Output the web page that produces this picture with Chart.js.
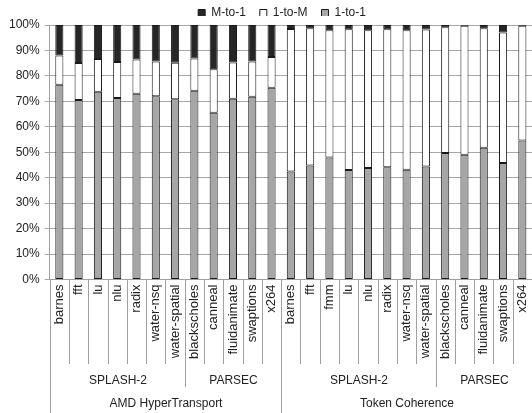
<!DOCTYPE html>
<html><head><meta charset="utf-8">
<script src="https://cdn.jsdelivr.net/npm/chart.js@4.4.0/dist/chart.umd.min.js"></script>
<style>html,body{margin:0;padding:0;background:#fff}canvas{display:block}</style>
</head><body>
<canvas id="c" width="532" height="413"></canvas>
<script>
const categories = [
  'barnes','fft','lu','nlu','radix','water-nsq','water-spatial',
  'blackscholes','canneal','fluidanimate','swaptions','x264',
  'barnes','fft','fmm','lu','nlu','radix','water-nsq','water-spatial',
  'blackscholes','canneal','fluidanimate','swaptions','x264'
];
const oneToOne = [76.5,70.5,73.8,71.3,73.0,72.0,70.8,74.2,65.5,71.0,71.8,75.3,
                  42.4,44.8,47.9,43.0,43.8,44.1,43.1,44.4,49.7,49.0,51.8,45.8,54.6];
const oneToM   = [11.5,14.6,12.8,14.2,13.4,13.7,14.4,12.6,17.1,14.3,13.9,12.1,
                  56.0,53.9,50.0,55.3,54.1,54.2,54.8,53.8,49.4,50.7,46.9,51.3,45.1];
const mToOne   = [12.0,14.9,13.4,14.5,13.6,14.3,14.8,13.2,17.4,14.7,14.3,12.6,
                  1.6,1.3,2.1,1.7,2.1,1.7,2.1,1.8,0.9,0.3,1.3,2.9,0.3];
const suites = [
  {label:'SPLASH-2', from:0, to:6},
  {label:'PARSEC', from:7, to:11},
  {label:'SPLASH-2', from:12, to:19},
  {label:'PARSEC', from:20, to:24}
];
const systems = [
  {label:'AMD HyperTransport', from:0, to:11},
  {label:'Token Coherence', from:12, to:24}
];

const FONT = "'Liberation Sans', Arial, sans-serif";
const LINE = '#a0a0a0';

const hierPlugin = {
  id: 'hier',
  afterLayout(chart) {
    const lg = chart.legend;
    if (lg) {
      const shift = 282 - (lg.left + lg.right) / 2;
      lg.left += shift; lg.right += shift;
      lg.top = -7; lg.bottom = lg.top + lg.height;
    }
  },
  afterDraw(chart) {
    const ctx = chart.ctx, x = chart.scales.x, area = chart.chartArea;
    const step = x.getPixelForValue(1) - x.getPixelForValue(0);
    const edge = i => Math.round(x.getPixelForValue(i) - step / 2) + 0.5;
    const H = chart.height;
    const sBound = new Set(suites.map(s => s.from));
    const sysBound = new Set(systems.map(s => s.from));
    ctx.save();
    ctx.strokeStyle = LINE; ctx.lineWidth = 1;
    for (let i = 0; i < categories.length; i++) {
      let y2 = 364;
      if (sysBound.has(i)) y2 = H;
      else if (sBound.has(i)) y2 = 387;
      ctx.beginPath(); ctx.moveTo(edge(i), area.bottom); ctx.lineTo(edge(i), y2); ctx.stroke();
    }
    ctx.fillStyle = '#222';
    ctx.font = '12px ' + FONT;
    ctx.textAlign = 'center'; ctx.textBaseline = 'middle';
    const mid = g => (edge(g.from) + edge(g.to + 1)) / 2;
    suites.forEach(g => ctx.fillText(g.label, mid(g), 380.5));
    systems.forEach(g => ctx.fillText(g.label, mid(g), 403.5));
    ctx.restore();
  }
};

new Chart(document.getElementById('c'), {
  type: 'bar',
  data: {
    labels: categories,
    datasets: [
      {label:'1-to-1', data: oneToOne, backgroundColor:'#a6a6a8'},
      {label:'1-to-M', data: oneToM, backgroundColor:'#ffffff'},
      {label:'M-to-1', data: mToOne, backgroundColor:'#262626'}
    ].map(d => Object.assign(d, {borderColor:'#1a1a1a', borderWidth:1, borderSkipped:false,
                                  barPercentage:0.42, categoryPercentage:1}))
  },
  options: {
    responsive: false,
    animation: false,
    devicePixelRatio: 1,
    layout: {padding: {left: 4, right: 0, top: 2, bottom: 0}},
    plugins: {
      legend: {
        position: 'top', reverse: true, maxHeight: 23,
        labels: {boxWidth: 7, boxHeight: 7, padding: 14, color: '#222',
                 font: {family: FONT, size: 12}}
      },
      tooltip: {enabled: false}
    },
    scales: {
      x: {
        stacked: true,
        grid: {color: 'rgba(0,0,0,0)', drawTicks: false},
        border: {display: true, color: LINE},
        ticks: {autoSkip: false, minRotation: 90, maxRotation: 90, padding: 5,
                color: '#222', font: {family: FONT, size: 13}},
        afterFit(s) { s.height = 133.5; s.paddingLeft = 0; s.paddingRight = 0; }
      },
      y: {
        stacked: true, min: 0, max: 100,
        grid: {color: '#a8a8a8', tickLength: 5},
        border: {color: LINE},
        ticks: {stepSize: 10, padding: 5, color: '#222',
                font: {family: FONT, size: 12}, callback: v => v + '%'}
      }
    }
  },
  plugins: [hierPlugin]
});
</script>
</body></html>
